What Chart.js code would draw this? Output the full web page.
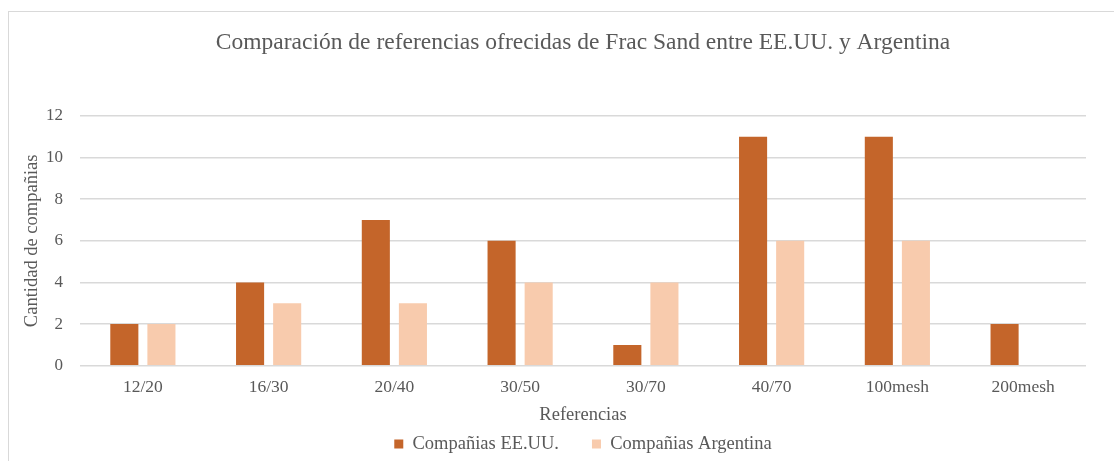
<!DOCTYPE html>
<html>
<head>
<meta charset="utf-8">
<script src="https://cdn.jsdelivr.net/npm/chart.js@4.4.1/dist/chart.umd.min.js"></script>
<style>
  html, body { margin: 0; padding: 0; background: #ffffff; overflow: hidden; }
  #frame { position: absolute; left: 8px; top: 11px; width: 1200px; height: 600px; border: 1px solid #d9d9d9; box-sizing: border-box; }
  #wrap { position: absolute; left: 0; top: 0; width: 1114px; height: 461px; }
</style>
</head>
<body>
<div id="frame"></div>
<div id="wrap"><canvas id="c" width="1114" height="461"></canvas></div>
<script>
const titleText = 'Comparación de referencias ofrecidas de Frac Sand entre EE.UU. y Argentina';
const categories = ['12/20', '16/30', '20/40', '30/50', '30/70', '40/70', '100mesh', '200mesh'];
const seriesNames = ['Compañias EE.UU.', 'Compañias Argentina'];
const usaValues = [2, 4, 7, 6, 1, 11, 11, 2];
const argValues = [2, 3, 3, 4, 4, 6, 6, 0];
const yMin = 0, yMax = 12, yStep = 2;
const xAxisTitle = 'Referencias';
const yAxisTitle = 'Cantidad de compañias';

const serif = "'Liberation Serif', 'Times New Roman', serif";
const textColor = '#595959';

new Chart(document.getElementById('c'), {
  type: 'bar',
  data: {
    labels: categories,
    datasets: [
      { label: seriesNames[0], data: usaValues, backgroundColor: '#C4652A', barPercentage: 0.757, categoryPercentage: 0.59 },
      { label: seriesNames[1], data: argValues, backgroundColor: '#F8CBAD', barPercentage: 0.757, categoryPercentage: 0.59 }
    ]
  },
  options: {
    responsive: false,
    animation: false,
    layout: { padding: { left: 20.9, top: 12, right: 28, bottom: -2.25 } },
    plugins: {
      title: {
        display: true, text: titleText, fullSize: false,
        color: textColor,
        font: { family: serif, size: 23.5, weight: 'normal' },
        padding: { top: 16.9, bottom: 58.9 }
      },
      legend: {
        position: 'bottom', fullSize: false,
        labels: {
          color: textColor,
          font: { family: serif, size: 18.5 },
          boxWidth: 9, boxHeight: 9, padding: 33
        }
      },
      tooltip: { enabled: false }
    },
    scales: {
      x: {
        grid: { display: false, drawTicks: false },
        border: { display: false },
        ticks: { color: textColor, font: { family: serif, size: 17.5 }, padding: 11 },
        title: { display: true, text: xAxisTitle, color: textColor, font: { family: serif, size: 18.5 }, padding: { top: -4.8, bottom: -24.35 } }
      },
      y: {
        min: yMin, max: yMax,
        grid: { color: '#d9d9d9', lineWidth: 1.5, drawTicks: false },
        border: { display: false },
        ticks: { stepSize: yStep, color: textColor, font: { family: serif, size: 17 }, padding: 17 },
        title: { display: true, text: yAxisTitle, color: textColor, font: { family: serif, size: 18.5 }, padding: { top: 0, bottom: -14.1 } }
      }
    }
  }
});
</script>
</body>
</html>
